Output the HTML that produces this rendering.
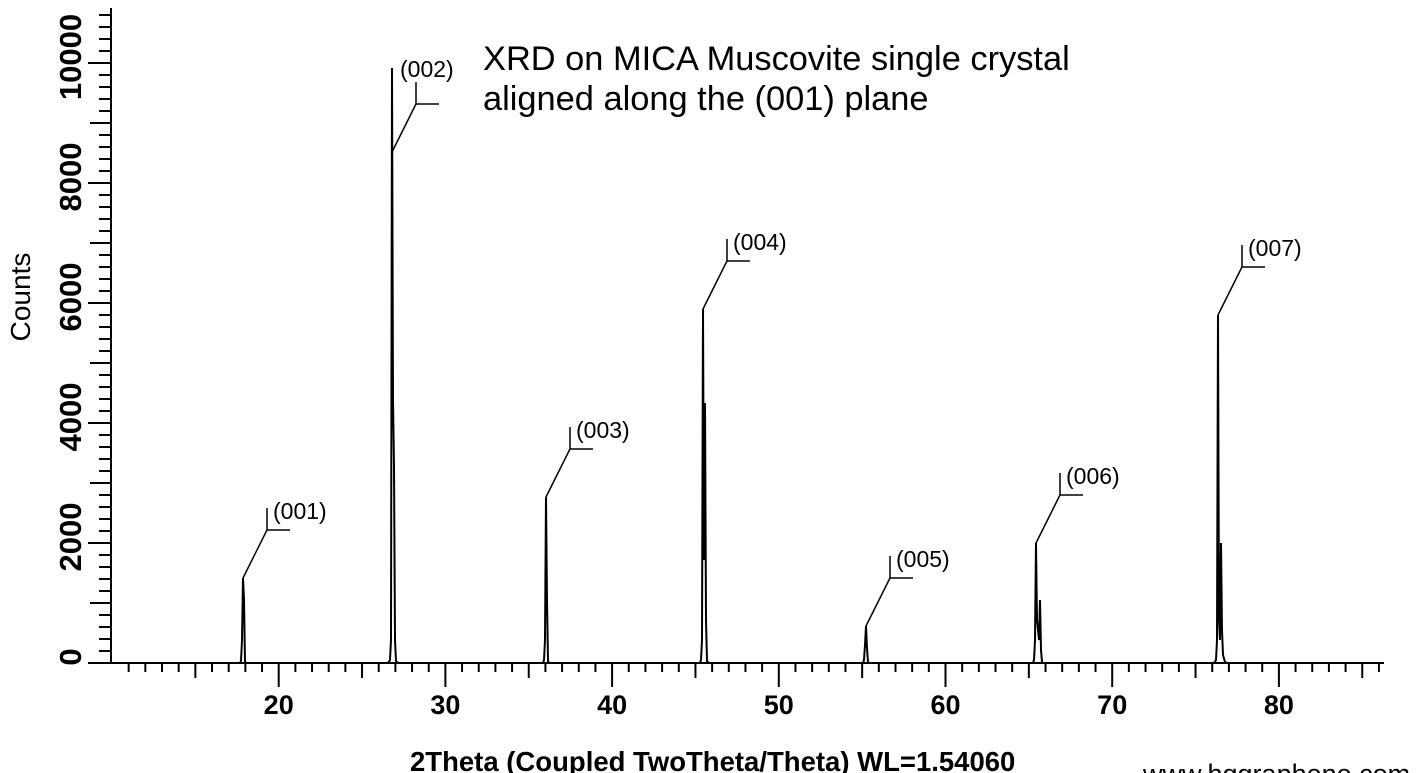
<!DOCTYPE html>
<html><head><meta charset="utf-8"><style>
html,body{margin:0;padding:0;background:#fff;}
svg{display:block;}
text{font-family:"Liberation Sans",Arial,sans-serif;fill:#000;}
</style></head><body>
<svg id="s" width="1423" height="773" viewBox="0 0 1423 773" xmlns="http://www.w3.org/2000/svg">
<g stroke="#000" stroke-width="2" fill="none" id="axes">
<line x1="111" y1="8" x2="111" y2="664"/>
<line x1="88" y1="663" x2="1384" y2="663"/>
</g>
<g id="ticks" stroke="#000" stroke-width="2"></g>
<g id="data" stroke="#000" stroke-width="2" fill="none">
<polyline points="112,663 240,663 241,661 242,640 243,578 244,600 245,661 246,663 388,663 390,660 391,640 392,68 393,400 394,465 395,640 396,661 398,663 543,663 544,660 545,640 546,497 547,600 548,661 549,663 700,663 701,660 702,640 703,309 704,560 705,403 706,620 707,661 709,663 863,663 864,660 865,645 866,626 867,648 868,662 869,663 1033,663 1034,660 1035,640 1036,543 1037,620 1039,640 1040,600 1041,650 1042,662 1043,663 1214,663 1216,660 1217,640 1218,315 1219,620 1220,640 1221,543 1222,630 1223,655 1225,662 1227,663 1383,663"/>
</g>
<g stroke="#000" stroke-width="1.5" fill="none" id="leaders"></g>
<g id="labels" font-size="23"></g>
<text x="483" y="70" font-size="34.4">XRD on MICA Muscovite single crystal</text>
<text x="483" y="110" font-size="34.4">aligned along the (001) plane</text>
<text transform="translate(30,297) rotate(-90)" font-size="28" text-anchor="middle">Counts</text>
<text x="410" y="771" font-size="27.5" font-weight="bold">2Theta (Coupled TwoTheta/Theta) WL=1.54060</text>
<text x="1143" y="783" font-size="27">www.hqgraphene.com</text>
</svg>
<script>
var NS="http://www.w3.org/2000/svg",s=document.getElementById('s');
function el(p,t,a,txt){var e=document.createElementNS(NS,t);for(var k in a)e.setAttribute(k,a[k]);if(txt)e.textContent=txt;p.appendChild(e);return e;}
var tk=document.getElementById('ticks');
for(var d=11;d<=86;d++){var x=112+(d-10)*16.67;var L=d%10==0?24:(d%5==0?15:9);el(tk,'line',{x1:x,y1:663,x2:x,y2:663+L});
 if(d%10==0)el(s,'text',{x:x,y:714,'font-size':27,'font-weight':'bold','text-anchor':'middle'},String(d));}
for(var c=0;c<=10800;c+=200){var y=663-c*0.06;var L=c%2000==0?23:(c%1000==0?21:12);el(tk,'line',{x1:111-L,y1:y,x2:111,y2:y});
 if(c%2000==0){el(s,'text',{transform:'translate(81,'+(y-6)+') rotate(-90)','font-size':31,'font-weight':'bold','text-anchor':'middle'},String(c));}}
var P=[[243,578,'(001)'],[392,152,'(002)'],[546,497,'(003)'],[703,309,'(004)'],[866,626,'(005)'],[1036,543,'(006)'],[1218,315,'(007)']];
var ld=document.getElementById('leaders'),lb=document.getElementById('labels');
P.forEach(function(p){var x=p[0],y=p[1],vx=x+24,vy=y-48;
 el(ld,'polyline',{points:x+','+y+' '+vx+','+vy+' '+vx+','+(vy-22)});
 el(ld,'line',{x1:vx,y1:vy,x2:vx+23,y2:vy});
 var tx=vx+6,ty=vy-11;
 if(p[2]=='(002)'){tx=400;ty=77;}
 el(lb,'text',{x:tx,y:ty},p[2]);});
</script>
</body></html>
